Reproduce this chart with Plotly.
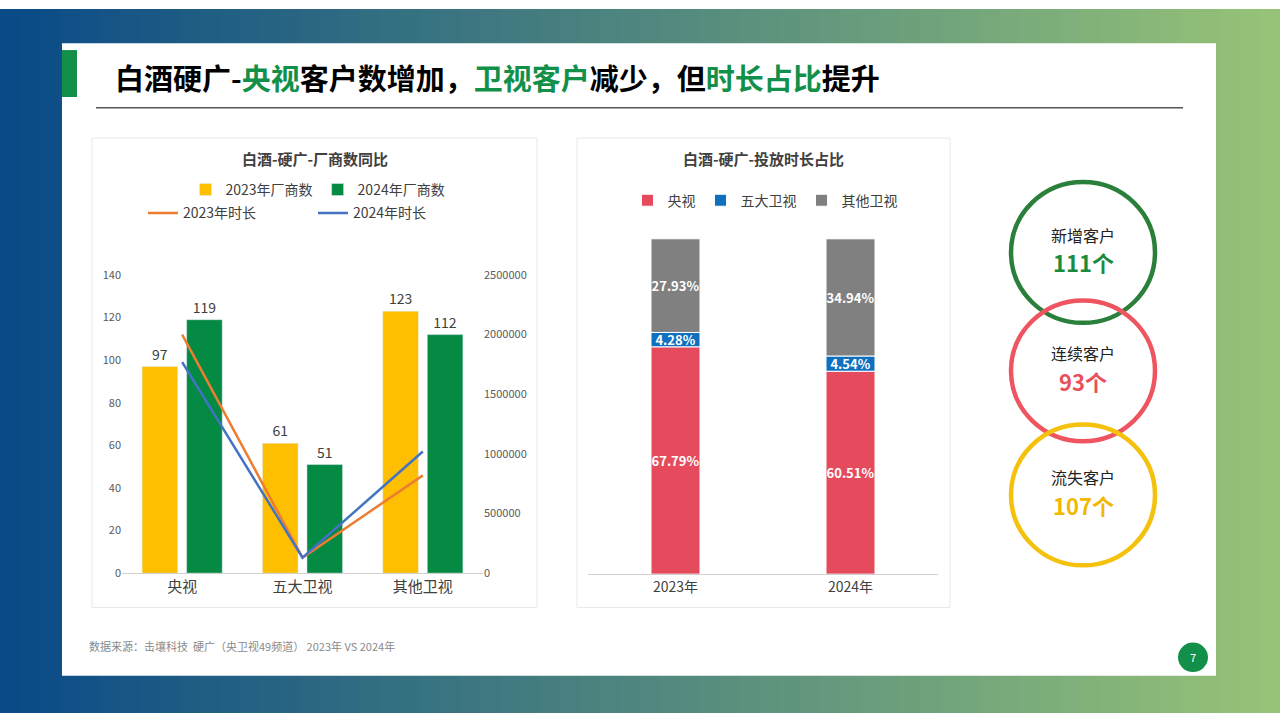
import plotly.graph_objects as go

# left chart data
channels = ["央视", "五大卫视", "其他卫视"]
firms_2023 = [97, 61, 123]
firms_2024 = [119, 51, 112]
dur_2023 = [2000000, 130000, 820000]
dur_2024 = [1770000, 130000, 1020000]

# right chart data
years = ["2023年", "2024年"]
share_cctv = [67.79, 60.51]
share_top5 = [4.28, 4.54]
share_other = [27.93, 34.94]

# circles
circle_labels = ["新增客户", "连续客户", "流失客户"]
circle_values = ["111个", "93个", "107个"]
circle_colors = ["#2a7f3a", "#ee5560", "#f4c20d"]
value_colors = ["#1a8a3c", "#e8505b", "#f2b800"]

FONT = "Noto Sans CJK SC"
W, H = 1280, 720
px = lambda x: x / W
py = lambda y: 1 - y / H

fig = go.Figure()

# left chart
fig.add_trace(go.Bar(x=channels, y=firms_2023, name="2023年厂商数", marker_color="#fdbf00",
                     text=firms_2023, textposition="outside", offsetgroup="a",
                     textfont=dict(size=14, color="#404040"), legend="legend"))
fig.add_trace(go.Bar(x=channels, y=firms_2024, name="2024年厂商数", marker_color="#058a44",
                     text=firms_2024, textposition="outside", offsetgroup="b",
                     textfont=dict(size=14, color="#404040"), legend="legend"))
fig.add_trace(go.Scatter(x=channels, y=dur_2023, name="2023年时长", mode="lines", yaxis="y2",
                         line=dict(color="#ed7d31", width=2.5), legend="legend2"))
fig.add_trace(go.Scatter(x=channels, y=dur_2024, name="2024年时长", mode="lines", yaxis="y2",
                         line=dict(color="#4472c4", width=2.5), legend="legend2"))

# right chart (stacked via base)
base_top5 = share_cctv
base_other = [a + b for a, b in zip(share_cctv, share_top5)]
for name, vals, base, col in [("央视", share_cctv, None, "#e54b5d"),
                              ("五大卫视", share_top5, base_top5, "#0f70c0"),
                              ("其他卫视", share_other, base_other, "#808080")]:
    fig.add_trace(go.Bar(x=years, y=vals, base=base, name=name, xaxis="x3", yaxis="y3",
                         marker=dict(color=col, line=dict(color="white", width=1)),
                         width=0.28, offsetgroup="s",
                         text=[f"<b>{v:.2f}%</b>" for v in vals], textposition="inside",
                         insidetextanchor="middle", constraintext="none", textangle=0,
                         textfont=dict(size=13, color="white", family=FONT), legend="legend3"))

shapes = []
# gradient background
n = 64
c0, c1 = (10, 75, 135), (150, 195, 120)
for i in range(n):
    t = i / (n - 1)
    c = tuple(int(c0[k] + (c1[k] - c0[k]) * t) for k in range(3))
    shapes.append(dict(type="rect", xref="paper", yref="paper", x0=i / n, x1=(i + 1) / n + 0.002,
                       y0=0, y1=1, line_width=0, fillcolor="rgb(%d,%d,%d)" % c, layer="below"))
shapes += [
    dict(type="rect", xref="paper", yref="paper", x0=px(62), x1=px(1216), y0=py(682), y1=py(35),
         fillcolor="white", line_width=0, layer="below"),
    dict(type="rect", xref="paper", yref="paper", x0=px(62), x1=px(77), y0=py(90), y1=py(42),
         fillcolor="#12904a", line_width=0),
    dict(type="line", xref="paper", yref="paper", x0=px(96), x1=px(1183), y0=py(101), y1=py(101),
         line=dict(color="#555555", width=1.5)),
    dict(type="rect", xref="paper", yref="paper", x0=px(92), x1=px(537), y0=py(612), y1=py(132),
         line=dict(color="#e8e8e8", width=1), layer="below"),
    dict(type="rect", xref="paper", yref="paper", x0=px(577), x1=px(950), y0=py(612), y1=py(132),
         line=dict(color="#e8e8e8", width=1), layer="below"),
    dict(type="circle", xref="paper", yref="paper", x0=px(1178), x1=px(1208), y0=py(678), y1=py(648),
         fillcolor="#12904a", line_width=0),
]
cy = [249, 370, 497]
for c, y in zip(circle_colors, cy):
    shapes.append(dict(type="circle", xref="paper", yref="paper", x0=px(1011), x1=px(1155),
                       y0=py(y + 72), y1=py(y - 72), line=dict(color=c, width=4.5)))

G = "<span style='color:#12904a'>%s</span>"
title = "白酒硬广-" + G % "央视" + "客户数增加，" + G % "卫视客户" + "减少，但" + G % "时长占比" + "提升"
ann = [
    dict(text="<b>" + title + "</b>", x=px(113), y=py(70), xanchor="left", yanchor="middle",
         font=dict(size=29, color="black")),
    dict(text="<b>白酒-硬广-厂商数同比</b>", x=px(315), y=py(153), font=dict(size=15, color="#404040")),
    dict(text="<b>白酒-硬广-投放时长占比</b>", x=px(763), y=py(153), font=dict(size=15, color="#404040")),
    dict(text="数据来源：击壤科技  硬广（央卫视49频道） 2023年 VS 2024年", x=px(87), y=py(651),
         xanchor="left", font=dict(size=11, color="#8a8a8a")),
    dict(text="7", x=px(1193), y=py(663), font=dict(size=11, color="white")),
]
for lab, val, vc, y in zip(circle_labels, circle_values, value_colors, cy):
    ann.append(dict(text=lab, x=px(1083), y=py(y - 18), font=dict(size=16, color="#222222")))
    ann.append(dict(text="<b>" + val + "</b>", x=px(1083), y=py(y + 10), font=dict(size=22, color=vc)))
for a in ann:
    a.update(xref="paper", yref="paper", showarrow=False)
    a.setdefault("xanchor", "center")
    a.setdefault("yanchor", "middle")

fig.update_layout(
    autosize=True, margin=dict(l=0, r=0, t=0, b=0),
    paper_bgcolor="white", plot_bgcolor="rgba(0,0,0,0)",
    font=dict(family=FONT, color="#595959"),
    barmode="group", bargap=0.26, bargroupgap=0.2,
    shapes=shapes, annotations=ann,
    xaxis=dict(domain=[px(122), px(483)], showgrid=False, showline=True, linecolor="#d0d0d0",
               tickfont=dict(size=15, color="#404040"), ticks=""),
    yaxis=dict(domain=[py(577), py(272)], range=[0, 140], dtick=20, showgrid=False,
               tickfont=dict(size=11, color="#595959"), zeroline=False),
    yaxis2=dict(overlaying="y", side="right", range=[0, 2500000], dtick=500000, showgrid=False,
                tickformat="d", tickfont=dict(size=11, color="#595959"), zeroline=False),
    xaxis3=dict(domain=[px(588), px(938)], anchor="y3", showline=True, linecolor="#d0d0d0",
                tickfont=dict(size=14, color="#404040"), ticks=""),
    yaxis3=dict(domain=[py(578), py(235)], anchor="x3", range=[0, 100], visible=False),
    legend=dict(orientation="h", x=px(318), y=py(185), xanchor="center", yanchor="middle",
                font=dict(size=14, color="#404040"), bgcolor="rgba(0,0,0,0)", traceorder="normal"),
    legend2=dict(orientation="h", x=px(313), y=py(209), xanchor="center", yanchor="middle",
                 font=dict(size=14, color="#404040"), bgcolor="rgba(0,0,0,0)", entrywidth=125),
    legend3=dict(orientation="h", x=px(765), y=py(196), xanchor="center", yanchor="middle",
                 font=dict(size=14, color="#404040"), bgcolor="rgba(0,0,0,0)",
                 itemwidth=30, tracegroupgap=0),
)

fig.write_html("out.html", default_width="100vw", default_height="100vh",
               config={"displayModeBar": False},
               post_script="document.body.style.margin='0';document.body.style.overflow='hidden';window.dispatchEvent(new Event('resize'));")
